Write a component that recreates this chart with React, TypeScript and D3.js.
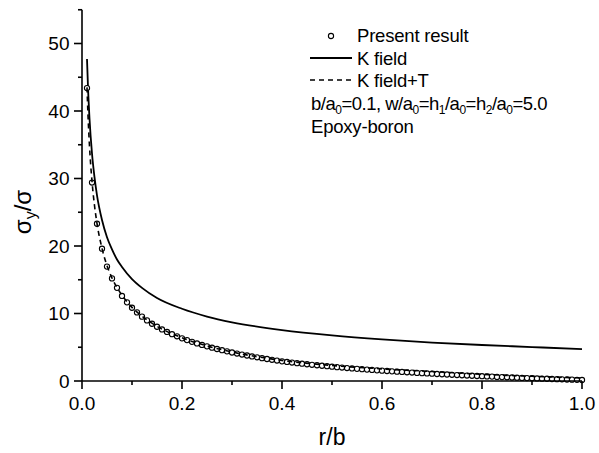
import React from "react";
import * as d3 from "d3";

// Present result: r/b = 0.01 ... 1.00 (step 0.01)
const presentValues = [
  43.4, 29.4, 23.3, 19.6, 16.95, 15.2, 13.8, 12.6, 11.65, 10.85,
  10.16, 9.53, 8.98, 8.48, 8.04, 7.64, 7.27, 6.93, 6.62, 6.32,
  6.06, 5.8, 5.56, 5.34, 5.13, 4.93, 4.74, 4.56, 4.39, 4.22,
  4.07, 3.92, 3.78, 3.64, 3.51, 3.38, 3.26, 3.14, 3.03, 2.91,
  2.82, 2.73, 2.64, 2.56, 2.48, 2.4, 2.33, 2.26, 2.19, 2.12,
  2.05, 1.99, 1.92, 1.86, 1.8, 1.75, 1.69, 1.64, 1.58, 1.53,
  1.48, 1.43, 1.38, 1.34, 1.29, 1.25, 1.2, 1.16, 1.12, 1.08,
  1.04, 1.0, 0.96, 0.92, 0.88, 0.85, 0.81, 0.78, 0.74, 0.71,
  0.68, 0.65, 0.61, 0.58, 0.55, 0.52, 0.49, 0.46, 0.43, 0.41,
  0.38, 0.35, 0.33, 0.3, 0.27, 0.25, 0.22, 0.2, 0.17, 0.15,
];
const presentR = presentValues.map((_, i) => (i + 1) / 100);

const curveR = [0.01, 0.012, 0.015, 0.02, 0.025, 0.03, 0.04, 0.05, 0.06, 0.07, 0.08, 0.1, 0.12, 0.15, 0.2, 0.25, 0.3, 0.4, 0.5, 0.6, 0.7, 0.8, 0.9, 1.0];
const kField = [47.7, 43.5, 38.9, 33.7, 30.2, 27.5, 23.85, 21.3, 19.5, 18.0, 16.9, 15.1, 13.8, 12.3, 10.7, 9.55, 8.7, 7.54, 6.75, 6.16, 5.7, 5.33, 5.03, 4.72];
const kFieldT = [43.5, 39.4, 34.8, 29.6, 26.0, 23.35, 19.65, 17.1, 15.25, 13.85, 12.7, 10.9, 9.6, 8.1, 6.4, 5.2, 4.3, 3.05, 2.3, 1.8, 1.4, 1.0, 0.7, 0.45];

const xMajor = [0, 0.2, 0.4, 0.6, 0.8, 1.0];
const xMinor = [0.1, 0.3, 0.5, 0.7, 0.9];
const yMajor = [0, 10, 20, 30, 40, 50];
const yMinor = [5, 15, 25, 35, 45, 55];

const FONT = "'Liberation Sans', Arial, Helvetica, sans-serif";

export default function App() {
  const W = 599, H = 453;
  const x = d3.scaleLinear().domain([0, 1]).range([82, 582]);
  const y = d3.scaleLinear().domain([0, 55]).range([381, 9.75]);

  const line = d3
    .line<[number, number]>()
    .x((d) => x(d[0]))
    .y((d) => y(d[1]))
    .curve(d3.curveMonotoneX);

  const kPath = line(curveR.map((r, i) => [r, kField[i]]) as [number, number][]) || "";
  const kTPath = line(curveR.map((r, i) => [r, kFieldT[i]]) as [number, number][]) || "";

  const subStyle = { fontSize: 12 };

  return (
    <svg
      width={W}
      height={H}
      style={{ position: "absolute", left: 0, top: 0, background: "#fff" }}
      fontFamily={FONT}
    >
      <rect x={0} y={0} width={W} height={H} fill="#fff" />

      {/* Solid K field */}
      <path d={kPath} fill="none" stroke="#000" strokeWidth={1.8} />

      {/* Present result circles */}
      {presentR.map((r, i) => (
        <circle key={i} cx={x(r)} cy={y(presentValues[i])} r={2.6} fill="#fff" stroke="#000" strokeWidth={1.1} />
      ))}

      {/* Dashed K field + T */}
      <path d={kTPath} fill="none" stroke="#000" strokeWidth={1.6} strokeDasharray="5,4" />

      {/* Axes */}
      <line x1={x(0)} x2={x(1)} y1={y(0)} y2={y(0)} stroke="#000" strokeWidth={1.6} />
      <line x1={x(0)} x2={x(0)} y1={y(0)} y2={y(55)} stroke="#000" strokeWidth={1.6} />

      {xMajor.map((t) => (
        <g key={"xm" + t}>
          <line x1={x(t)} x2={x(t)} y1={y(0)} y2={y(0) + 8} stroke="#000" strokeWidth={1.6} />
          <text x={x(t)} y={410} textAnchor="middle" fontSize={19}>
            {t.toFixed(1)}
          </text>
        </g>
      ))}
      {xMinor.map((t) => (
        <line key={"xn" + t} x1={x(t)} x2={x(t)} y1={y(0)} y2={y(0) + 4} stroke="#000" strokeWidth={1.6} />
      ))}

      {yMajor.map((t) => (
        <g key={"ym" + t}>
          <line x1={x(0) - 8} x2={x(0)} y1={y(t)} y2={y(t)} stroke="#000" strokeWidth={1.6} />
          <text x={69.5} y={y(t)} dy="0.35em" textAnchor="end" fontSize={19}>
            {t}
          </text>
        </g>
      ))}
      {yMinor.map((t) => (
        <line key={"yn" + t} x1={x(0) - 4} x2={x(0)} y1={y(t)} y2={y(t)} stroke="#000" strokeWidth={1.6} />
      ))}

      {/* Axis titles */}
      <text x={332} y={445} textAnchor="middle" fontSize={23}>
        r/b
      </text>
      <text transform="translate(31,212) rotate(-90)" textAnchor="middle" fontSize={24}>
        σ
        <tspan fontSize={16} dy={5}>y</tspan>
        <tspan dy={-5}>/σ</tspan>
      </text>

      {/* Legend */}
      <circle cx={331} cy={36} r={2.6} fill="#fff" stroke="#000" strokeWidth={1.1} />
      <text x={357} y={42} fontSize={18.5} letterSpacing={-0.2}>Present result</text>
      <line x1={310} x2={352} y1={58} y2={58} stroke="#000" strokeWidth={1.8} />
      <text x={357} y={65} fontSize={18.5} letterSpacing={-0.2}>K field</text>
      <line x1={310} x2={352} y1={80} y2={80} stroke="#000" strokeWidth={1.6} strokeDasharray="5,4" />
      <text x={357} y={87} fontSize={18.5} letterSpacing={-0.2}>K field+T</text>
      <text x={311} y={110} fontSize={18.5} letterSpacing={-0.5}>
        b/a<tspan style={subStyle} dy={4}>0</tspan>
        <tspan dy={-4}>=0.1, w/a</tspan>
        <tspan style={subStyle} dy={4}>0</tspan>
        <tspan dy={-4}>=h</tspan>
        <tspan style={subStyle} dy={4}>1</tspan>
        <tspan dy={-4}>/a</tspan>
        <tspan style={subStyle} dy={4}>0</tspan>
        <tspan dy={-4}>=h</tspan>
        <tspan style={subStyle} dy={4}>2</tspan>
        <tspan dy={-4}>/a</tspan>
        <tspan style={subStyle} dy={4}>0</tspan>
        <tspan dy={-4}>=5.0</tspan>
      </text>
      <text x={311} y={133} fontSize={18.5} letterSpacing={-0.2}>Epoxy-boron</text>
    </svg>
  );
}
